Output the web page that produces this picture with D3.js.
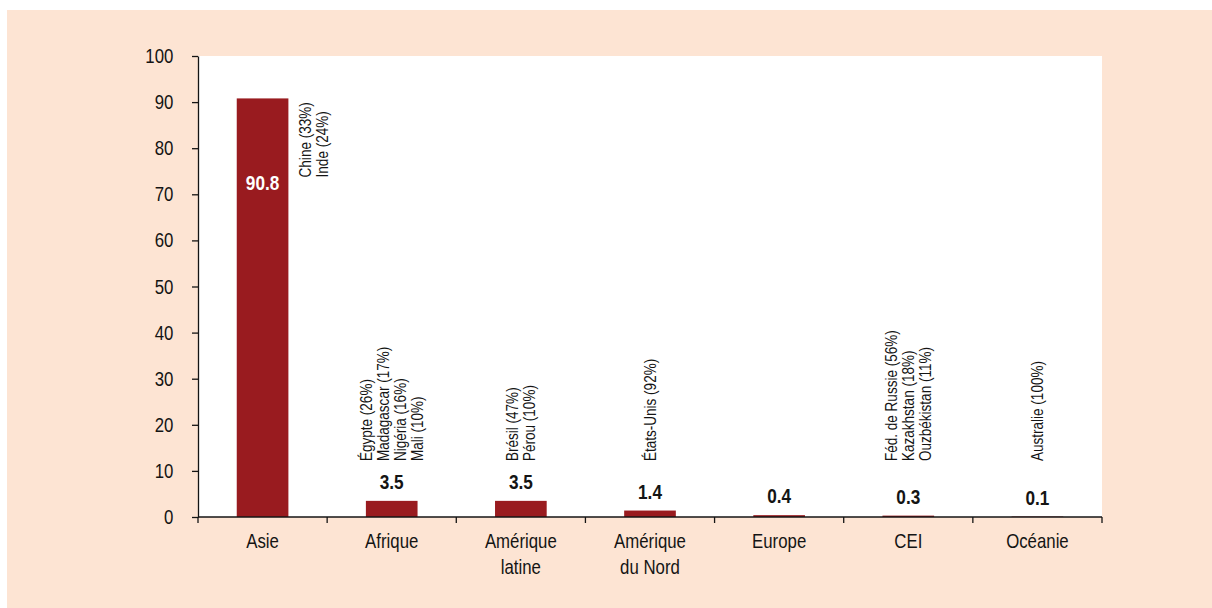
<!DOCTYPE html>
<html>
<meta charset="utf-8">
<head>
  <script src="https://d3js.org/d3.v7.min.js"></script>
  <style>
    body { margin: 0; background: #fff; }
    text { font-family: "Liberation Sans Narrow", "Liberation Sans", Arial, sans-serif; fill: #141414; }
  </style>
</head>
<body>
<div id="my_dataviz"></div>
<script>

// data
var regions = ["Asie", "Afrique", "Amérique latine", "Amérique du Nord", "Europe", "CEI", "Océanie"];
var regionLines = [["Asie"], ["Afrique"], ["Amérique", "latine"], ["Amérique", "du Nord"], ["Europe"], ["CEI"], ["Océanie"]];
var shares = [90.8, 3.5, 3.5, 1.4, 0.4, 0.3, 0.1];
var countries = [
  ["Chine (33%)", "Inde (24%)"],
  ["Égypte (26%)", "Madagascar (17%)", "Nigéria (16%)", "Mali (10%)"],
  ["Brésil (47%)", "Pérou (10%)"],
  ["États-Unis  (92%)"],
  [],
  ["Féd. de Russie (56%)", "Kazakhstan (18%)", "Ouzbékistan (11%)"],
  ["Australie (100%)"]
];
var yTicks = [0, 10, 20, 30, 40, 50, 60, 70, 80, 90, 100];

var W = 1212, H = 608;
var plot = {left: 198, right: 1102, top: 56, bottom: 517};
var narrow = 0.82; // squeeze text horizontally, no condensed face available

var svg = d3.select("#my_dataviz")
  .append("svg")
    .attr("width", W)
    .attr("height", H);

// peach frame
svg.append("rect")
  .attr("x", 7).attr("y", 10)
  .attr("width", W - 7).attr("height", H - 10)
  .attr("fill", "#fde4d3");

// white plot area
svg.append("rect")
  .attr("x", plot.left).attr("y", plot.top)
  .attr("width", plot.right - plot.left).attr("height", plot.bottom - plot.top)
  .attr("fill", "#fff");

var x = d3.scaleBand()
  .domain(regions)
  .range([plot.left, plot.right])
  .paddingInner(0.6)
  .paddingOuter(0.3);

var y = d3.scaleLinear()
  .domain([0, 100])
  .range([plot.bottom, plot.top]);

var step = x.step();
function center(r) { return x(r) + x.bandwidth() / 2; }

// y axis
var yAxis = svg.append("g")
  .attr("transform", "translate(" + plot.left + ",0)")
  .call(d3.axisLeft(y).tickValues(yTicks).tickSize(6).tickPadding(24).tickSizeOuter(0));
yAxis.select(".domain").attr("stroke", "#141414").attr("stroke-width", 1.3);
yAxis.selectAll(".tick line").attr("stroke", "#141414").attr("stroke-width", 1.3);
yAxis.selectAll(".tick text")
  .attr("transform", "scale(" + narrow + ",1)")
  .style("font-family", "'Liberation Sans Narrow', 'Liberation Sans', Arial, sans-serif")
  .style("font-size", "20.5px")
  .attr("fill", "#141414");

// bars
svg.selectAll("rect.bar")
  .data(shares)
  .enter()
  .append("rect")
    .attr("class", "bar")
    .attr("x", function(d, i) { return x(regions[i]); })
    .attr("y", function(d) { return y(d); })
    .attr("width", x.bandwidth())
    .attr("height", function(d) { return y(0) - y(d); })
    .attr("fill", "#991b1f");

// x axis line + boundary ticks
svg.append("line")
  .attr("x1", plot.left).attr("x2", plot.right)
  .attr("y1", y(0)).attr("y2", y(0))
  .attr("stroke", "#141414").attr("stroke-width", 1.3);

var bounds = regions.map(function(r) { return center(r) - step / 2; });
bounds.push(center(regions[regions.length - 1]) + step / 2);
svg.selectAll("line.xtick")
  .data(bounds)
  .enter()
  .append("line")
    .attr("class", "xtick")
    .attr("x1", function(d) { return d; }).attr("x2", function(d) { return d; })
    .attr("y1", y(0)).attr("y2", y(0) + 6)
    .attr("stroke", "#141414").attr("stroke-width", 1.3);

// category labels
regions.forEach(function(r, i) {
  var t = svg.append("text")
    .attr("transform", "translate(" + center(r) + "," + (y(0) + 31) + ") scale(" + narrow + ",1)")
    .attr("text-anchor", "middle")
    .style("font-size", "20.5px");
  regionLines[i].forEach(function(line, j) {
    t.append("tspan")
      .attr("x", 0)
      .attr("dy", j === 0 ? 0 : 26)
      .text(line);
  });
});

// value labels
shares.forEach(function(v, i) {
  var inside = y(0) - y(v) > 100;
  var ty = inside ? y(v) + 92 : y(v) - 12;
  svg.append("text")
    .attr("transform", "translate(" + center(regions[i]) + "," + ty + ") scale(" + narrow + ",1)")
    .attr("text-anchor", "middle")
    .style("font-size", "21px")
    .style("font-weight", "bold")
    .style("fill", inside ? "#fff" : "#141414")
    .text(v.toFixed(1));
});

// country shares, vertical
var lineGap = 17;
countries.forEach(function(list, i) {
  var v = shares[i];
  var big = y(0) - y(v) > 100;
  var c = center(regions[i]);
  list.forEach(function(name, j) {
    var cx = big ? x(regions[i]) + x.bandwidth() + 17 + j * lineGap
                 : c + (j - (list.length - 1) / 2) * lineGap;
    var by = big ? y(v) + 79 : y(0) - 56;
    svg.append("text")
      .attr("transform", "translate(" + cx + "," + by + ") rotate(-90) scale(" + narrow + ",1)")
      .attr("dy", "0.35em")
      .attr("text-anchor", "start")
      .style("font-size", "16.5px")
      .text(name);
  });
});

</script>
</body>
</html>
